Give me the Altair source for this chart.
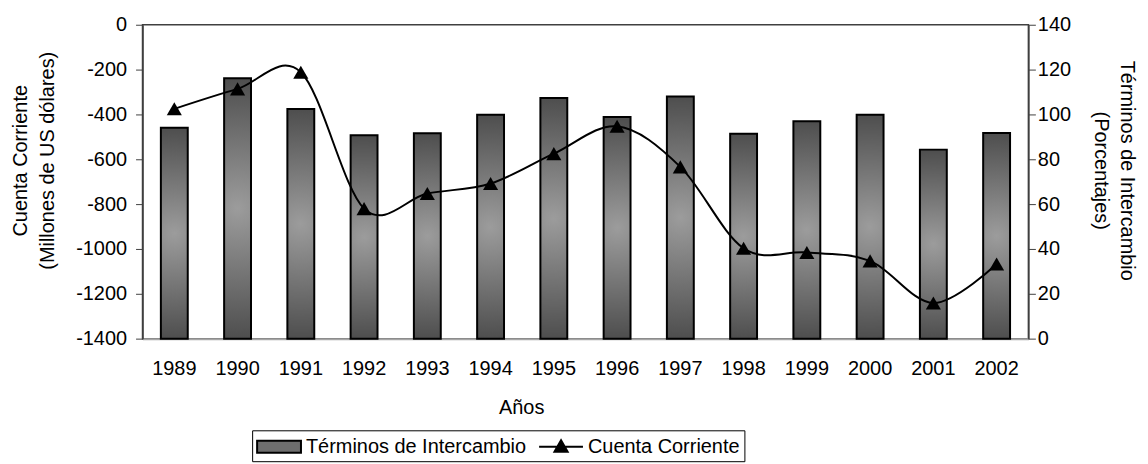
import altair as alt
import pandas as pd

years = ["1989", "1990", "1991", "1992", "1993", "1994", "1995",
         "1996", "1997", "1998", "1999", "2000", "2001", "2002"]
bar_values = [-459, -239, -376, -493, -484, -401, -327,
              -412, -320, -486, -430, -401, -557, -483]
line_values = [102.5, 111.4, 118.8, 58.0, 64.7, 69.2, 82.5,
               94.7, 76.6, 40.3, 38.4, 34.7, 15.9, 33.3]
series_names = ["Términos de Intercambio", "Cuenta Corriente"]

df = pd.DataFrame({"year": years, "bar": bar_values, "line": line_values})
legend_df = pd.DataFrame({"serie": series_names})

FONT = "Liberation Sans"

bar_gradient = {
    "gradient": "radial",
    "x1": 0.5, "y1": 0.5, "r1": 0,
    "x2": 0.5, "y2": 0.5, "r2": 0.5,
    "stops": [
        {"offset": 0, "color": "#9c9c9c"},
        {"offset": 1, "color": "#4e4e4e"},
    ],
}

x_enc = alt.X(
    "year:N",
    sort=years,
    scale=alt.Scale(paddingInner=0.575, paddingOuter=0.29),
    axis=alt.Axis(
        title="Años", labelAngle=0, ticks=False, labelPadding=20,
        domainColor="#a6a6a6", domainWidth=2,
        titleX=380, titleY=69, titleBaseline="middle",
    ),
)

bars = alt.Chart(df).mark_bar(
    fill=bar_gradient, stroke="black", strokeWidth=2
).encode(
    x=x_enc,
    y=alt.Y(
        "bar:Q",
        scale=alt.Scale(domain=[-1400, 0], nice=False),
        axis=alt.Axis(
            title=["Cuenta Corriente", "(Millones de US dólares)"],
            values=list(range(-1400, 1, 200)), orient="left",
            labelExpr="datum.value + ''",
            tickSize=7, labelPadding=9, grid=False,
            titleX=-122, titleY=136, titleBaseline="middle",
            titleLineHeight=27,
        ),
    ),
    y2=alt.Y2(datum=-1400),
)

line = alt.Chart(df).mark_line(
    interpolate="cardinal", color="black", strokeWidth=2
).encode(
    x=alt.X("year:N", sort=years),
    y=alt.Y(
        "line:Q",
        scale=alt.Scale(domain=[0, 140], nice=False),
        axis=alt.Axis(
            title=["Términos de Intercambio", "(Porcentajes)"],
            values=list(range(0, 141, 20)), orient="right",
            labelExpr="datum.value + ''",
            tickSize=7, labelPadding=2, grid=False,
            titleX=98, titleY=146, titleBaseline="middle",
            titleLineHeight=26,
        ),
    ),
)

points = alt.Chart(df).mark_point(
    shape="triangle-up", filled=True, size=230, color="black", opacity=1
).encode(
    x=alt.X("year:N", sort=years),
    y=alt.Y("line:Q"),
)

rect_path = "M-1,-0.55H3V0.55H-1Z"
tri_path = "M-1,0H3M1,-0.6L1.6,0.45L0.4,0.45Z"

legend_layer = alt.Chart(legend_df).transform_filter(
    "false"
).mark_point(filled=True, opacity=1).encode(
    fill=alt.Fill(
        "serie:N",
        scale=alt.Scale(domain=series_names, range=["#6e6e6e", "black"]),
        title=None,
        legend=alt.Legend(
            orient="none", legendX=110, legendY=407, direction="horizontal",
            strokeColor="black", padding=4, symbolSize=484,
            symbolStrokeColor="black", symbolStrokeWidth=2, symbolOpacity=1,
            labelFontSize=20, labelFont=FONT, labelColor="black",
            labelOffset=26, columnPadding=8, labelLimit=400,
        ),
    ),
    shape=alt.Shape(
        "serie:N",
        scale=alt.Scale(domain=series_names, range=[rect_path, tri_path]),
        title=None,
    ),
    stroke=alt.value("black"),
    strokeWidth=alt.value(2),
    opacity=alt.value(1),
)

right_layer = alt.layer(line, points, legend_layer)

chart = alt.layer(bars, right_layer).resolve_scale(
    y="independent"
).properties(
    width=889, height=315,
    autosize=alt.AutoSizeParams(type="none"),
    padding={"left": 135, "top": 16, "right": 112, "bottom": 124},
).configure_view(
    stroke="#404040", strokeWidth=1.5
).configure_axis(
    labelFont=FONT, titleFont=FONT, labelFontSize=20, titleFontSize=20,
    labelColor="black", titleColor="black", titleFontWeight="normal",
    domainColor="#404040", tickColor="#404040", domainWidth=1.5,
)

chart.save("out.html", embed_options={"renderer": "svg", "actions": False})
